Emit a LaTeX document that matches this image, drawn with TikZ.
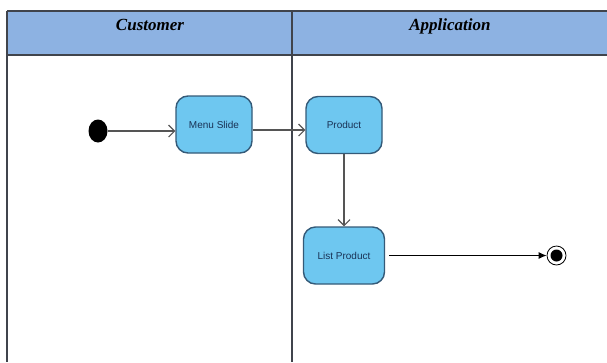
\documentclass[tikz,border=0pt]{standalone}
\usepackage{fontspec}
\setmainfont{Liberation Serif}
\setsansfont{Liberation Sans}
\usetikzlibrary{arrows.meta,shapes.geometric}
\definecolor{headblue}{RGB}{141,178,226}
\definecolor{boxblue}{RGB}{110,199,240}
\definecolor{boxline}{RGB}{52,90,120}
\definecolor{boxtext}{RGB}{25,50,85}
\definecolor{frame}{RGB}{64,68,76}
\definecolor{conn}{RGB}{85,85,85}
\tikzset{
  actbox/.style={draw=boxline, line width=1.4pt, fill=boxblue, rounded corners=12pt,
    minimum width=76pt, minimum height=57pt, inner sep=0pt,
    font=\sffamily\fontsize{10}{12}\selectfont, text=boxtext},
  lanehead/.style={font=\bfseries\itshape\fontsize{17}{20}\selectfont, anchor=base, inner sep=0pt},
  flow/.style={draw=conn, line width=1.1pt, -{Straight Barb[length=6pt,width=12pt,line width=1.1pt]}},
  frameline/.style={draw=frame, line width=1.4pt},
}
\begin{document}
\begin{tikzpicture}[x=1pt,y=-1pt]
\useasboundingbox (0,0) rectangle (607,362);
% header band
\fill[headblue] (7,11) rectangle (607,55);
\draw[frameline] (7,11) -- (607,11);
\draw[draw=frame, line width=2pt] (7,55) -- (607,55);
\draw[frameline] (7,11) -- (7,362);
\draw[frameline] (292,11) -- (292,362);
\node[lanehead] (hc) at (150,30) {Customer};
\node[lanehead] (ha) at (450,30) {Application};
% nodes
\node[fill=black, ellipse, minimum width=19pt, minimum height=23pt, inner sep=0pt] (init) at (98,131) {};
\node[actbox] (menu) at (214,124.5) {Menu Slide};
\node[actbox] (prod) at (344,125) {Product};
\node[actbox, minimum width=81pt] (list) at (344,255.5) {List Product};
\node[circle, draw=black, line width=0.8pt, minimum size=19pt, inner sep=0pt] (fin) at (556.5,255.5) {};
\node[circle, fill=black, minimum size=12pt, inner sep=0pt] (finin) at (fin.center) {};
% connectors
\draw[flow] (init.east |- 0,131) -- (menu.west |- 0,131);
\draw[flow] (menu.east |- 0,130) -- (prod.west |- 0,130);
\draw[flow] (prod.south) -- (list.north);
\draw[draw=black, line width=1pt, -{Latex[length=8pt,width=7pt]}] ([xshift=4pt]list.east) -- (fin.west);
\end{tikzpicture}
\end{document}
